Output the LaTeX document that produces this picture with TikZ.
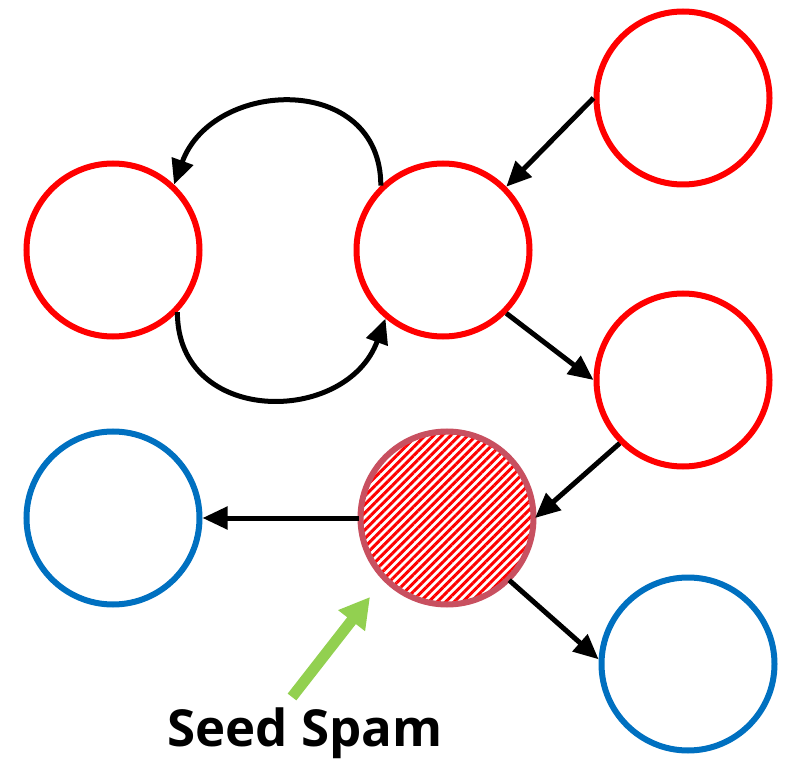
\documentclass[tikz,border=0pt]{standalone}
\usepackage{fontspec}
\setmainfont{Open Sans}
\usetikzlibrary{arrows.meta,patterns.meta}
\definecolor{spamred}{RGB}{255,0,0}
\definecolor{goodblue}{RGB}{0,112,192}
\definecolor{seedrim}{RGB}{200,80,96}
\definecolor{markgreen}{RGB}{146,208,80}
\begin{document}
\begin{tikzpicture}[x=1pt,y=-1pt,
		page/.style={circle,draw,line width=6pt,minimum size=173pt,inner sep=0pt},
		spam/.style={page,draw=spamred},
		good/.style={page,draw=goodblue},
		seed/.style={page,draw=seedrim,pattern={Lines[angle=45,distance=6pt,line width=3pt]},pattern color=spamred},
		link/.style={line width=5pt,-{Triangle[length=25pt,width=22pt]}}]
			\useasboundingbox (0,0) rectangle (790,759);
			\node[spam] (A) at (113,250) {};
			\node[spam] (B) at (443,250) {};
			\node[spam] (C) at (683,98) {};
			\node[spam] (D) at (683,380) {};
			\node[seed] (S) at (447,518) {};
			\node[good] (E) at (113,518) {};
			\node[good] (F) at (688,664) {};
			\draw[link] (C.180) -- (B.45);
			\draw[link] (B.134) to[out=90,in=70,looseness=1.4] (A.47);
			\draw[link] (A.-44) to[out=-90,in=-110,looseness=1.4] (B.-130);
			\draw[link] (B.-45) -- (D.180);
			\draw[link] (D.-135) -- (S.0);
			\draw[link] (S.180) -- (E.0);
			\draw[link] (S.-45) -- (F.177);
			\node[anchor=base,inner sep=0pt,font=\fontsize{51}{60}\selectfont\bfseries] (lbl) at (305,746) {Seed Spam};
			\coordinate (tail) at (292,697);
			\coordinate (tip) at (370,597);
			\draw[markgreen,line width=11pt,-{Triangle[length=30pt,width=32pt]}] (tail) -- (tip);
\end{tikzpicture}
\end{document}
